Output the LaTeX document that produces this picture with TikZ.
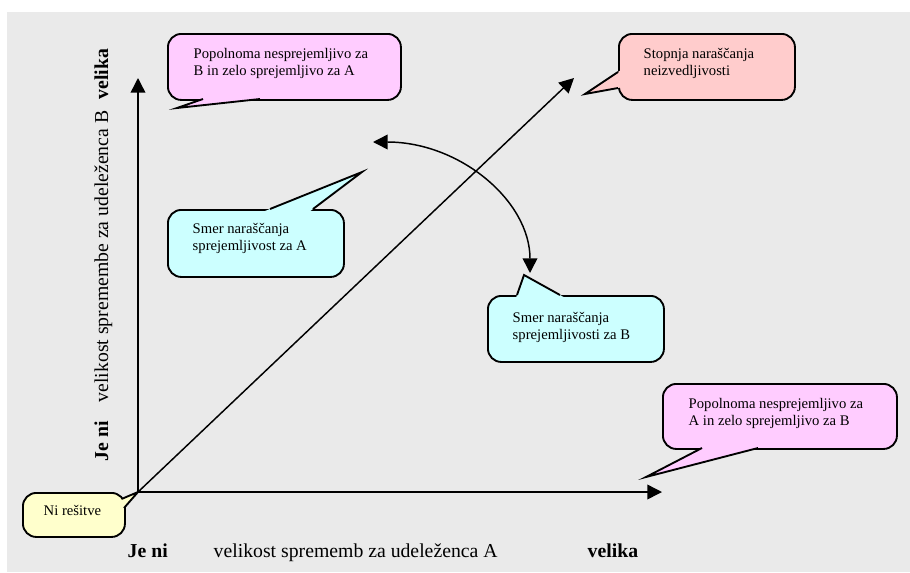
\documentclass[tikz,border=0pt]{standalone}
\usepackage{fontspec}
\setmainfont{Liberation Serif}
\usepackage{tikz}
\usetikzlibrary{arrows.meta}
\usetikzlibrary{calc}

\definecolor{bggray}{RGB}{234,234,234}
\definecolor{calloutpink}{RGB}{255,204,255}
\definecolor{calloutred}{RGB}{255,204,204}
\definecolor{calloutcyan}{RGB}{204,255,255}
\definecolor{calloutyellow}{RGB}{255,255,204}

\begin{document}
\begin{tikzpicture}[x=0.75pt,y=-0.75pt,
  >={Triangle[length=11pt,width=11pt]},line width=1.1pt,
  box/.style={draw,rectangle,rounded corners=10pt,line width=1.4pt,inner sep=0pt,anchor=north west},
  txt/.style={inner sep=0pt,align=left,anchor=north west,font=\fontsize{11}{12.75}\selectfont},
  axis/.style={inner sep=0pt,anchor=base west,font=\fontsize{14.8}{17}\selectfont}]
      \tikzstyle{wedge}=[line width=1.4pt,line join=miter]

     \useasboundingbox (0,0) rectangle (910,572);
     \fill[bggray] (7,12) rectangle (910,572);

     \coordinate (O) at (138,492);
     \coordinate (Yend) at (138,78);
     \coordinate (Xend) at (662,492);
     \coordinate (Dend) at (574,78);
     \coordinate (Cl) at (373,142);
     \coordinate (Cb) at (530,273);

     % axes and arrows
     \draw[->] (O) -- (Yend);
     \draw[->] (O) -- (Xend);
     \draw[->] (O) -- (Dend);
     \draw[<->] (Cl) .. controls (460,142) and (530,201) .. (Cb);

     % callouts
     \node[box,fill=calloutpink,minimum width=174.75pt,minimum height=49.5pt] (PA) at (167,33) {};
     \coordinate (PAtip) at (177,108);
     \fill[calloutpink] ($(PAtip)!1.35!(203,99)$) -- (PAtip) -- ($(PAtip)!1.35!(260,99)$) -- cycle;
     \draw[wedge] (203,99) -- (PAtip) -- (260,99);
     \node[txt] (PAt) at (193,48) {Popolnoma nesprejemljivo za\\B in zelo sprejemljivo za A};

     \node[box,fill=calloutred,minimum width=132pt,minimum height=49.5pt] (SN) at (618,33) {};
     \coordinate (SNtip) at (585,94);
     \fill[calloutred] ($(SNtip)!1.35!(618,72)$) -- (SNtip) -- ($(SNtip)!1.35!(618,88)$) -- cycle;
     \draw[wedge] (618,72) -- (SNtip) -- (618,88);
     \node[txt] (SNt) at (643,48) {Stopnja naraščanja\\neizvedljivosti};

     \node[box,fill=calloutcyan,minimum width=132pt,minimum height=50.25pt] (SA) at (167,209) {};
     \coordinate (SAtip) at (362,172);
     \fill[calloutcyan] ($(SAtip)!1.35!(270,209)$) -- (SAtip) -- ($(SAtip)!1.35!(313,209)$) -- cycle;
     \draw[wedge] (270,209) -- (SAtip) -- (313,209);
     \node[txt] (SAt) at (192,223) {Smer naraščanja\\sprejemljivost za A};

     \node[box,fill=calloutcyan,minimum width=132pt,minimum height=49.5pt] (SB) at (487,295) {};
     \coordinate (SBtip) at (524,275);
     \fill[calloutcyan] ($(SBtip)!1.35!(517,295)$) -- (SBtip) -- ($(SBtip)!1.35!(560,295)$) -- cycle;
     \draw[wedge] (517,295) -- (SBtip) -- (560,295);
     \node[txt] (SBt) at (512,312) {Smer naraščanja\\sprejemljivosti za B};

     \node[box,fill=calloutpink,minimum width=175.5pt,minimum height=48.75pt] (PB) at (662,383) {};
     \coordinate (PBtip) at (646,477);
     \fill[calloutpink] ($(PBtip)!1.35!(702,448)$) -- (PBtip) -- ($(PBtip)!1.35!(758,448)$) -- cycle;
     \draw[wedge] (702,448) -- (PBtip) -- (758,448);
     \node[txt] (PBt) at (688,398) {Popolnoma nesprejemljivo za\\A in zelo sprejemljivo za B};

     \node[box,fill=calloutyellow,minimum width=76.5pt,minimum height=33pt] (NR) at (22,492) {};
     \fill[calloutyellow] ($(O)!1.35!(121.5,499)$) -- (O) -- ($(O)!1.35!(124,508)$) -- cycle;
     \draw[wedge] (121.5,499) -- (O) -- (124,508);
     \node[txt,anchor=base west] (NRt) at (43,515) {Ni rešitve};

     % axis labels
     \node[axis] (XJe) at (127,557) {\textbf{Je ni}};
     \node[axis] (Xlab) at (213,557) {velikost sprememb za udeleženca A};
     \node[axis] (Xvel) at (587,557) {\textbf{velika}};
     \node[axis,rotate=90] (YJe) at (108,462) {\textbf{Je ni}};
     \node[axis,rotate=90] (Ylab) at (108,403) {velikost spremembe za udeleženca B};
     \node[axis,rotate=90] (Yvel) at (108,100) {\textbf{velika}};

  \end{tikzpicture}
\end{document}
